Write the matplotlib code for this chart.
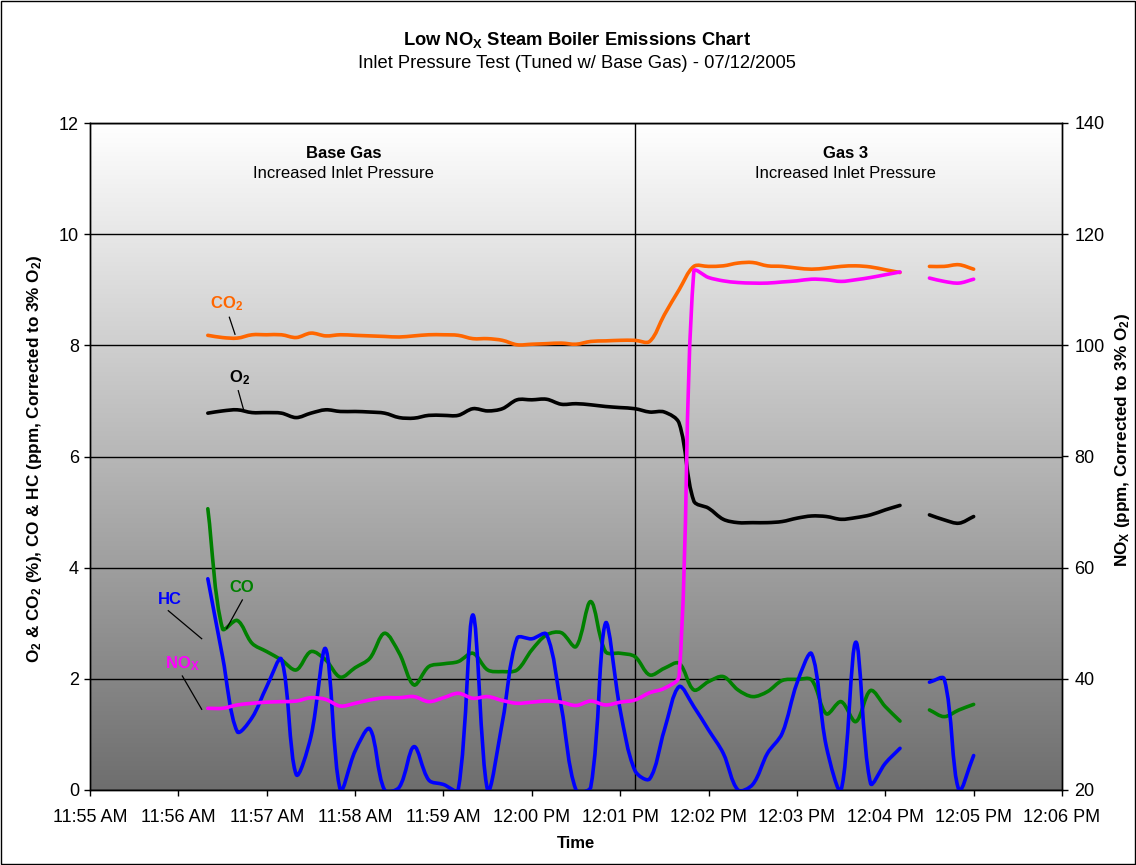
import numpy as np
import pandas as pd
import matplotlib
matplotlib.use('Agg')
import matplotlib.pyplot as plt
import matplotlib.dates as mdates
from matplotlib.path import Path
from matplotlib.patches import PathPatch, Rectangle
from matplotlib.colors import LinearSegmentedColormap

plt.rcParams['font.family'] = ['Liberation Sans', 'DejaVu Sans']
plt.rcParams['mathtext.fontset'] = 'custom'
plt.rcParams['mathtext.rm'] = 'Liberation Sans'
plt.rcParams['mathtext.bf'] = 'Liberation Sans:bold'
plt.rcParams['mathtext.it'] = 'Liberation Sans:italic'

nan = np.nan

# ---------------- data ----------------
DAY = '2005-07-12'
AXIS_START = '11:55:00'
SAMPLE_START = '11:56:20'   # readings every 10 s
SWITCH_TIME = '12:01:10'    # Base Gas -> Gas 3

TICK_TIMES = ['11:55', '11:56', '11:57', '11:58', '11:59', '12:00',
              '12:01', '12:02', '12:03', '12:04', '12:05', '12:06']

co2 = [8.18, 8.14, 8.13, 8.19, 8.19, 8.19, 8.14, 8.22, 8.17, 8.19, 8.18, 8.17,
       8.16, 8.15, 8.17, 8.19, 8.19, 8.18, 8.12, 8.12, 8.09, 8.01, 8.02, 8.03,
       8.04, 8.02, 8.07, 8.08, 8.09, 8.09, 8.07, 8.55, 9.00, 9.42, 9.42, 9.43,
       9.48, 9.49, 9.43, 9.42, 9.39, 9.37, 9.39, 9.42, 9.43, 9.41, 9.36, 9.31,
       nan, 9.42, 9.42, 9.45, 9.37]

o2 = [6.78, 6.82, 6.84, 6.79, 6.79, 6.78, 6.70, 6.78, 6.84, 6.81, 6.81, 6.80,
      6.78, 6.70, 6.69, 6.74, 6.74, 6.74, 6.86, 6.82, 6.86, 7.02, 7.02, 7.03,
      6.94, 6.95, 6.93, 6.90, 6.88, 6.86, 6.80, 6.80, 6.60, 5.20, 5.07, 4.87,
      4.81, 4.81, 4.81, 4.83, 4.89, 4.93, 4.92, 4.87, 4.90, 4.95, 5.04, 5.12,
      nan, 4.95, 4.86, 4.80, 4.92]

hc = [3.80, 2.40, 1.05, 1.30, 1.86, 2.35, 0.28, 0.96, 2.54, 0.00, 0.70, 1.10,
      0.00, 0.05, 0.78, 0.18, 0.10, 0.00, 3.15, 0.00, 1.22, 2.73, 2.72, 2.80,
      1.50, 0.00, 0.05, 3.00, 1.44, 0.35, 0.20, 1.08, 1.86, 1.50, 1.08, 0.66,
      0.00, 0.10, 0.66, 1.02, 1.92, 2.45, 0.78, 0.00, 2.66, 0.12, 0.48, 0.75,
      nan, 1.94, 2.00, 0.00, 0.62]

co = [5.06, 2.90, 3.05, 2.64, 2.49, 2.34, 2.16, 2.49, 2.34, 2.03, 2.20, 2.37,
      2.82, 2.46, 1.89, 2.22, 2.27, 2.31, 2.46, 2.16, 2.13, 2.16, 2.52, 2.79,
      2.83, 2.58, 3.39, 2.49, 2.46, 2.40, 2.07, 2.19, 2.28, 1.80, 1.95, 2.04,
      1.80, 1.68, 1.77, 1.97, 1.99, 1.98, 1.37, 1.59, 1.23, 1.79, 1.50, 1.24,
      nan, 1.44, 1.32, 1.44, 1.54]

nox = [34.7, 34.7, 35.3, 35.6, 35.8, 35.9, 36.0, 36.6, 36.3, 35.1, 35.6, 36.2,
       36.6, 36.6, 36.8, 35.9, 36.6, 37.4, 36.5, 36.8, 36.1, 35.6, 35.8, 36.0,
       35.8, 35.2, 36.0, 35.3, 35.8, 36.2, 37.5, 38.3, 40.5, 113.3, 112.2, 111.6,
       111.3, 111.2, 111.2, 111.4, 111.6, 111.9, 111.8, 111.5, 111.8, 112.2, 112.7, 113.2,
       nan, 112.1, 111.5, 111.2, 111.9]

# ---------------- helpers ----------------
def tnum(hms):
    return mdates.date2num(pd.Timestamp(f'{DAY} {hms}'))

times = mdates.date2num(pd.date_range(f'{DAY} {SAMPLE_START}', periods=len(co2), freq='10s'))
T0 = tnum(AXIS_START)

def tmin(m):
    return T0 + m / 1440.0


def smooth_segments(ax, x, y):
    """Excel-like smoothed line: Bezier through the points, built in display space,
    tangent split in proportion to neighbouring chord lengths."""
    x = np.asarray(x, float); y = np.asarray(y, float)
    idx = np.where(~np.isnan(y))[0]
    paths = []
    if len(idx) < 2:
        return paths
    groups = np.split(idx, np.where(np.diff(idx) > 1)[0] + 1)
    inv = ax.transData.inverted()
    for g in groups:
        pts = ax.transData.transform(np.column_stack([x[g], y[g]]))
        n = len(pts)
        if n < 2:
            continue
        seg = np.hypot(*(pts[1:] - pts[:-1]).T)
        verts = [pts[0]]
        codes = [Path.MOVETO]
        for i in range(n - 1):
            p0, p1 = pts[i], pts[i + 1]
            d = seg[i]
            if i > 0:
                c1 = p0 + (pts[i + 1] - pts[i - 1]) * d / (seg[i - 1] + d) / 3.0
            else:
                c1 = p0 + (p1 - p0) / 3.0
            if i + 2 < n:
                c2 = p1 - (pts[i + 2] - pts[i]) * d / (d + seg[i + 1]) / 3.0
            else:
                c2 = p1 - (p1 - p0) / 3.0
            verts += [c1, c2, p1]
            codes += [Path.CURVE4] * 3
        paths.append(Path(inv.transform(np.array(verts)), codes))
    return paths

# ---------------- figure ----------------
W, H = 1136, 865
fig = plt.figure(figsize=(W / 100, H / 100), dpi=100)
fig.patch.set_facecolor('white')

L, R, B, T = 90, 1062, 790, 123
ax = fig.add_axes([L / W, 1 - B / H, (R - L) / W, (B - T) / H])
ax2 = ax.twinx()

# gradient background
cmap = LinearSegmentedColormap.from_list('bg', ['#ffffff', '#6e6e6e'])
grad = np.linspace(0, 1, 256).reshape(-1, 1)
ax.imshow(grad, cmap=cmap, aspect='auto', extent=[0, 1, 0, 1],
          transform=ax.transAxes, origin='upper', zorder=0, interpolation='bilinear')

ax.set_xlim(tmin(0), tmin(11))
ax.set_ylim(0, 12)
ax2.set_ylim(20, 140)

ax.set_yticks(np.arange(0, 13, 2))
ax2.set_yticks(np.arange(20, 141, 20))
ax.yaxis.grid(True, color='black', lw=1.0)
for gl in ax.get_ygridlines():
    gl.set_zorder(1)

ax.set_xticks([tnum(t + ':00') for t in TICK_TIMES])
ax.xaxis.set_major_formatter(mdates.DateFormatter('%I:%M %p'))

for a in (ax, ax2):
    for s in a.spines.values():
        s.set_color('black'); s.set_linewidth(1.0)
ax.tick_params(axis='x', direction='out', length=4, width=1, labelsize=13, pad=10)
ax.tick_params(axis='y', direction='out', length=4, width=1, labelsize=13, pad=4)
ax2.tick_params(axis='y', direction='out', length=4, width=1, labelsize=13, pad=5)

# divider line
ax.axvline(tnum(SWITCH_TIME), color='black', lw=1.0, zorder=2)

LW = 2.6
series_left = [(co2, '#FF6600'), (o2, '#000000'), (co, '#008000'), (hc, '#0000FF')]
for vals, col in series_left:
    for p in smooth_segments(ax, times, vals):
        ax.add_patch(PathPatch(p, fill=False, edgecolor=col, lw=LW, zorder=3,
                               capstyle='round', joinstyle='round'))
for p in smooth_segments(ax2, times, nox):
    ax2.add_patch(PathPatch(p, fill=False, edgecolor='#FF00FF', lw=LW, zorder=3,
                            capstyle='round', joinstyle='round'))

# series labels with leader lines
labels = [
    ('CO$_\\mathbf{2}$', '#FF6600', (1.550, 8.744), (1.577, 8.505), (1.641, 8.199)),
    ('O$_\\mathbf{2}$', '#000000', (1.698, 7.413), (1.678, 7.184), (1.739, 6.837)),
    ('HC', '#0000FF', (0.905, 3.419), (0.886, 3.226), (1.264, 2.722)),
    ('CO', '#008000', (1.720, 3.643), (1.724, 3.419), (1.547, 2.909)),
    ('NO$_\\mathbf{X}$', '#FF00FF', (1.041, 2.267), (1.045, 2.051), (1.264, 1.452)),
]
for txt, col, tp, a, b in labels:
    ax.text(tmin(tp[0]), tp[1], txt, color=col, fontsize=12, fontweight='bold',
            ha='center', va='center', zorder=5)
    ax.plot([tmin(a[0]), tmin(b[0])], [a[1], b[1]], color='black', lw=0.9, zorder=5)

# region annotations
for xa, head in ((0.261, 'Base Gas'), (0.777, 'Gas 3')):
    ax.text(xa, 0.955, head, transform=ax.transAxes, ha='center', va='center',
            fontsize=12, fontweight='bold', zorder=5)
    ax.text(xa, 0.925, 'Increased Inlet Pressure', transform=ax.transAxes,
            ha='center', va='center', fontsize=12, zorder=5)

# titles and axis labels
fig.text(577 / W, 1 - 40 / H, 'Low NO$_\\mathbf{X}$ Steam Boiler Emissions Chart',
         ha='center', va='center', fontsize=13.2, fontweight='bold')
fig.text(577 / W, 1 - 64 / H, 'Inlet Pressure Test (Tuned w/ Base Gas) - 07/12/2005',
         ha='center', va='center', fontsize=13.2)
fig.text(576 / W, 1 - 843 / H, 'Time', ha='center', va='center', fontsize=12,
         fontweight='bold')
fig.text(35 / W, 1 - 459 / H,
         'O$_\\mathbf{2}$ & CO$_\\mathbf{2}$ (%), CO & HC (ppm, Corrected to 3% O$_\\mathbf{2}$)',
         ha='center', va='center', rotation=90, fontsize=12.3, fontweight='bold')
fig.text(1122 / W, 1 - 440 / H, 'NO$_\\mathbf{X}$ (ppm, Corrected to 3% O$_\\mathbf{2}$)',
         ha='center', va='center', rotation=90, fontsize=12.3, fontweight='bold')

fig.add_artist(Rectangle((0.0005, 0.0006), 0.999, 0.9988, transform=fig.transFigure,
                         fill=False, edgecolor='black', lw=1.0))

fig.savefig('out.png', dpi=100)
